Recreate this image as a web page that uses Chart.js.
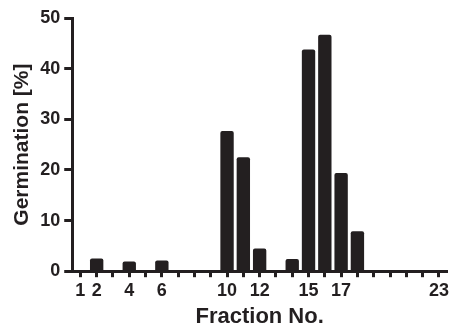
<!DOCTYPE html>
<html>
<head>
<meta charset="utf-8">
<script src="https://cdn.jsdelivr.net/npm/chart.js@4/dist/chart.umd.min.js"></script>
<style>
  html, body { margin: 0; padding: 0; background: #fff; }
  #wrap { width: 452px; height: 329px; }
</style>
</head>
<body>
<div id="wrap"><canvas id="germChart"></canvas></div>
<script>
//------------------Chart data------------------
const fractions = ['1', '2', '3', '4', '5', '6', '7', '8', '9', '10', '11', '12',
  '13', '14', '15', '16', '17', '18', '19', '20', '21', '22', '23'];
const germination = [null, 2.5, null, 1.9, null, 2.1, null, null, null, 27.7, 22.5, 4.5,
  null, 2.4, 43.8, 46.7, 19.4, 7.9, null, null, null, null, null];
const shownFractions = ['1', '2', '4', '6', '10', '12', '15', '17', '23'];
const yTicks = [0, 10, 20, 30, 40, 50];

//------------------Draw the chart------------------
const ink = '#231f20';
const font = 'Liberation Sans, Arial, Helvetica, sans-serif';

new Chart(document.getElementById('germChart'), {
  type: 'bar',
  data: {
    labels: fractions,
    datasets: [
      {
        label: 'Germination',
        data: germination,
        backgroundColor: ink,
        borderRadius: 2,
        borderSkipped: 'bottom',
        barPercentage: 0.82,
        categoryPercentage: 1,
      },
    ],
  },
  options: {
    responsive: true,
    maintainAspectRatio: false,
    animation: false,
    layout: { padding: { top: 18, right: 4, left: 6, bottom: 0 } },
    plugins: {
      legend: { display: false },
      tooltip: { enabled: false },
    },
    scales: {
      x: {
        offset: true,
        border: { display: true, color: ink, width: 3 },
        grid: {
          offset: false,
          drawOnChartArea: false,
          drawTicks: true,
          tickLength: 6,
          tickWidth: 3,
          tickColor: ink,
        },
        ticks: {
          color: ink,
          padding: 3,
          maxRotation: 0,
          autoSkip: false,
          font: { family: font, size: 18, weight: 'bold' },
          callback: function (value) {
            const lab = this.getLabelForValue(value);
            return shownFractions.includes(lab) ? lab : '';
          },
        },
        title: {
          display: true,
          text: 'Fraction No.',
          color: ink,
          padding: { top: 0, bottom: 0 },
          font: { family: font, size: 22, weight: 'bold', lineHeight: 1.1 },
        },
      },
      y: {
        min: 0,
        max: 50,
        border: { display: true, color: ink, width: 3 },
        grid: {
          drawOnChartArea: false,
          drawTicks: true,
          tickLength: 8,
          tickWidth: 3,
          tickColor: ink,
        },
        afterBuildTicks: (axis) => {
          axis.ticks = yTicks.map((v) => ({ value: v }));
        },
        ticks: {
          color: ink,
          padding: 4,
          font: { family: font, size: 18, weight: 'bold' },
        },
        title: {
          display: true,
          text: 'Germination [%]',
          color: ink,
          padding: { top: 4, bottom: 1 },
          font: { family: font, size: 21, weight: 'bold' },
        },
      },
    },
  },
});
</script>
</body>
</html>
